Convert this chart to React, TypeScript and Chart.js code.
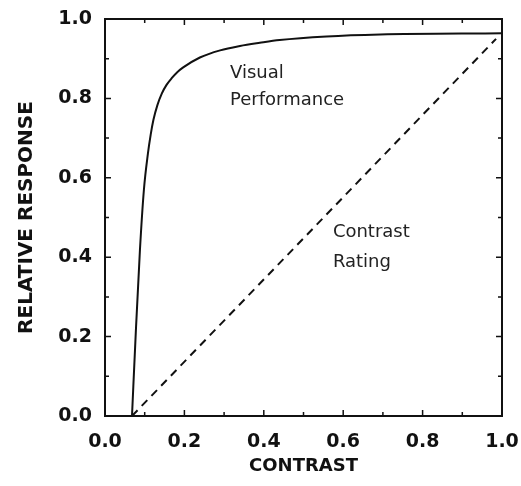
import React, { useEffect, useRef } from "react";
import { Chart, registerables } from "chart.js";

Chart.register(...registerables);

// Visual Performance curve
const perfX = [0.068, 0.078, 0.088, 0.098, 0.108, 0.115, 0.122, 0.132, 0.143, 0.155, 0.168, 0.182, 0.197, 0.239, 0.29, 0.34, 0.39, 0.44, 0.558, 0.693, 1.0];
const perfY = [0.0, 0.22, 0.418, 0.57, 0.66, 0.708, 0.746, 0.783, 0.812, 0.834, 0.851, 0.866, 0.878, 0.903, 0.921, 0.932, 0.94, 0.947, 0.956, 0.961, 0.964];

// Contrast Rating line
const ratingX = [0.068, 0.985];
const ratingY = [0.0, 0.95];

// Axis ticks
const tickValues = [0, 0.2, 0.4, 0.6, 0.8, 1.0];
const minorTickValues = [0.1, 0.3, 0.5, 0.7, 0.9];

// Labels inside the plot
const labelTexts = ["Visual", "Performance", "Contrast", "Rating"];
const labelX = [0.315, 0.315, 0.574, 0.574];
const labelY = [0.851, 0.783, 0.451, 0.375];

const FONT = "'DejaVu Sans', sans-serif";

const framePlugin = {
  id: "frameTicks",
  afterDraw(chart: any) {
    const { ctx, chartArea, scales } = chart;
    const { left, right, top, bottom } = chartArea;
    const xs = scales.x;
    const ys = scales.y;
    ctx.save();
    ctx.strokeStyle = "#111";
    ctx.lineWidth = 2;
    ctx.strokeRect(left, top, right - left, bottom - top);
    ctx.lineWidth = 1.5;
    const drawTicks = (vals: number[], len: number) => {
      vals.forEach((v) => {
        const px = xs.getPixelForValue(v);
        const py = ys.getPixelForValue(v);
        ctx.beginPath();
        ctx.moveTo(px, bottom);
        ctx.lineTo(px, bottom - len);
        ctx.moveTo(px, top);
        ctx.lineTo(px, top + len);
        ctx.moveTo(left, py);
        ctx.lineTo(left + len, py);
        ctx.moveTo(right, py);
        ctx.lineTo(right - len, py);
        ctx.stroke();
      });
    };
    drawTicks(tickValues, 6);
    drawTicks(minorTickValues, 4);

    ctx.fillStyle = "#222";
    ctx.font = `18px ${FONT}`;
    ctx.textAlign = "left";
    ctx.textBaseline = "alphabetic";
    labelTexts.forEach((t, i) => {
      ctx.fillText(t, xs.getPixelForValue(labelX[i]), ys.getPixelForValue(labelY[i]));
    });
    ctx.restore();
  },
};

export default function App() {
  const ref = useRef<HTMLCanvasElement>(null);
  useEffect(() => {
    if (!ref.current) return;
    const chart = new Chart(ref.current, {
      type: "scatter",
      data: {
        datasets: [
          {
            label: "Visual Performance",
            data: perfX.map((x, i) => ({ x, y: perfY[i] })),
            showLine: true,
            borderColor: "#111",
            borderWidth: 2,
            pointRadius: 0,
            cubicInterpolationMode: "monotone",
          },
          {
            label: "Contrast Rating",
            data: ratingX.map((x, i) => ({ x, y: ratingY[i] })),
            showLine: true,
            borderColor: "#111",
            borderWidth: 2,
            borderDash: [8, 6],
            pointRadius: 0,
          },
        ],
      },
      options: {
        responsive: false,
        animation: false,
        layout: { padding: { top: 19, right: 19, left: 0, bottom: 0 } },
        plugins: { legend: { display: false }, tooltip: { enabled: false } },
        scales: {
          x: {
            type: "linear",
            min: 0,
            max: 1,
            grid: { display: false, drawTicks: false },
            border: { display: false },
            afterFit: (s: any) => {
              s.height = 70;
              s.paddingLeft = 0;
              s.paddingRight = 0;
            },
            afterBuildTicks: (s: any) => {
              s.ticks = tickValues.map((v) => ({ value: v }));
            },
            ticks: {
              padding: 15,
              color: "#111",
              font: { family: FONT, size: 19, weight: "bold" },
              callback: (v: any) => Number(v).toFixed(1),
              maxRotation: 0,
            },
            title: {
              display: true,
              text: "CONTRAST",
              color: "#111",
              font: { family: FONT, size: 18, weight: "bold" },
              padding: { top: 0, bottom: 9 },
            },
          },
          y: {
            type: "linear",
            min: 0,
            max: 1,
            grid: { display: false, drawTicks: false },
            border: { display: false },
            afterFit: (s: any) => {
              s.width = 105;
              s.paddingTop = 0;
              s.paddingBottom = 0;
            },
            afterBuildTicks: (s: any) => {
              s.ticks = tickValues.map((v) => ({ value: v }));
            },
            ticks: {
              padding: 13,
              color: "#111",
              font: { family: FONT, size: 19, weight: "bold" },
              callback: (v: any) => Number(v).toFixed(1),
            },
            title: {
              display: true,
              text: "RELATIVE RESPONSE",
              color: "#111",
              font: { family: FONT, size: 20, weight: "bold" },
              padding: { top: 15, bottom: 0 },
            },
          },
        },
      },
      plugins: [framePlugin],
    } as any);
    return () => chart.destroy();
  }, []);
  return (
    <div style={{ position: "fixed", left: 0, top: 0, width: 521, height: 486, background: "#fff" }}>
      <canvas ref={ref} width={521} height={486} />
    </div>
  );
}
